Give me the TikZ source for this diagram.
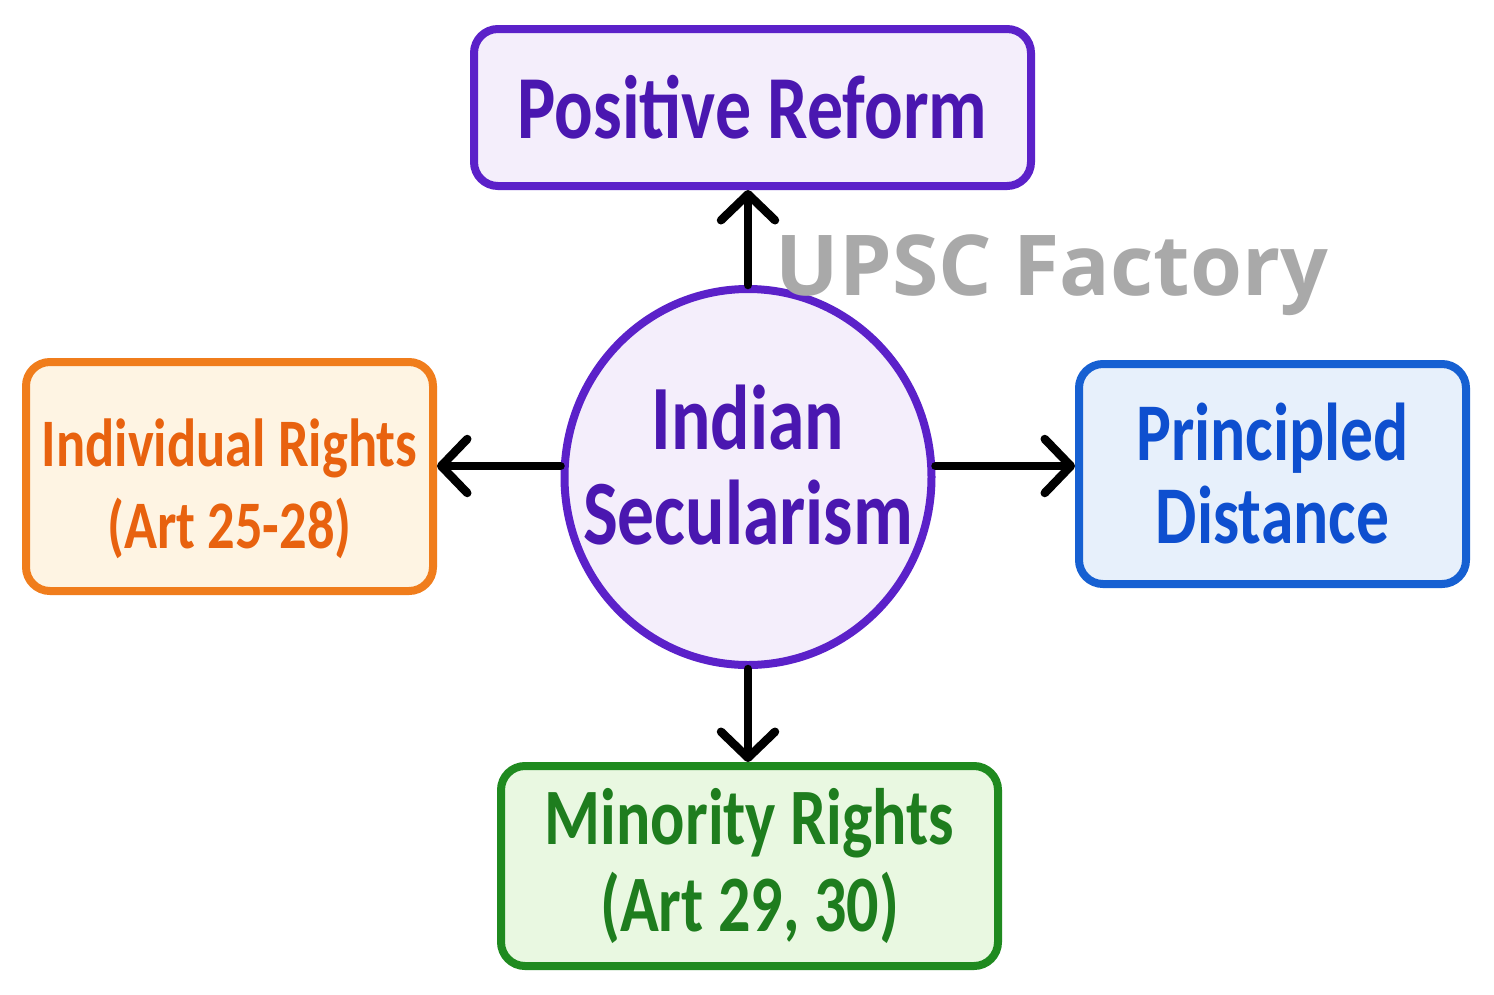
\documentclass[tikz,border=0pt]{standalone}
\usepackage{fontspec}
\setmainfont{Carlito}
\newfontfamily\hand[FakeStretch=0.8]{Carlito}
\newfontfamily\wmfont{Open Sans}
\usetikzlibrary{arrows.meta,shapes.geometric}
\definecolor{pbord}{HTML}{5B21C9}
\definecolor{pfill}{HTML}{F4EEFB}
\definecolor{ptext}{HTML}{4A17B0}
\definecolor{obord}{HTML}{F07D1C}
\definecolor{ofill}{HTML}{FEF4E3}
\definecolor{otext}{HTML}{E8620F}
\definecolor{bbord}{HTML}{1660D2}
\definecolor{bfill}{HTML}{E7F0FB}
\definecolor{btext}{HTML}{0E4FCF}
\definecolor{gbord}{HTML}{1F8A1F}
\definecolor{gfill}{HTML}{E9F8E1}
\definecolor{gtext}{HTML}{1E7D1E}
\definecolor{wmgray}{HTML}{A9A9A9}
\begin{document}
\begin{tikzpicture}[x=1pt,y=-1pt,
  box/.style={draw, rounded corners=24pt, line width=8pt, align=center, inner sep=0pt},
  lbl/.style={align=center, inner sep=0pt},
  conn/.style={line width=8.5pt, line cap=round, -{Straight Barb[length=26pt,width=54pt,round]}}]
\fill[white] (0,0) rectangle (1494,994);
\useasboundingbox (0,0) rectangle (1494,994);

\node[box, draw=pbord, fill=pfill, text=ptext, minimum width=557pt, minimum height=157pt,
  font={\hand\bfseries\fontsize{90}{95}\selectfont}] (top) at (752.5,107.5) {Positive Reform};

\node[box, draw=obord, fill=ofill, minimum width=407pt, minimum height=229pt,
  label={[lbl, text=otext, yshift=-12pt, font={\hand\bfseries\fontsize{68}{82}\selectfont}]center:Individual Rights\\(Art 25-28)}] (left) at (229.5,476.5) {};

\node[box, draw=bbord, fill=bfill, text=btext, minimum width=387pt, minimum height=220pt,
  font={\hand\bfseries\fontsize{82}{83}\selectfont}] (right) at (1272.5,474) {Principled\\Distance};

\node[box, draw=gbord, fill=gfill, text=gtext, minimum width=497pt, minimum height=200pt,
  font={\hand\bfseries\fontsize{80}{87}\selectfont}] (bottom) at (749.5,866) {Minority Rights\\(Art 29, 30)};

\node[ellipse, draw=pbord, fill=pfill, line width=8pt, minimum width=367pt, minimum height=376pt,
  inner sep=0pt,
  label={[lbl, text=ptext, yshift=12pt, font={\hand\bfseries\fontsize{92}{95}\selectfont}]center:Indian\\Secularism}] (center) at (748,477) {};

\draw[conn] (center.north) -- (center.north |- top.south);
\draw[conn] ([yshift=11pt]center.west) -- ([yshift=11pt]center.west -| left.east);
\draw[conn] ([yshift=11pt]center.east) -- ([yshift=11pt]center.east -| right.west);
\draw[conn] (center.south) -- (center.south |- bottom.north);

\node[text=wmgray, font={\wmfont\bfseries\fontsize{84}{90}\selectfont}, inner sep=0pt] (wm) at (1052,275) {UPSC Factory};
\end{tikzpicture}
\end{document}
